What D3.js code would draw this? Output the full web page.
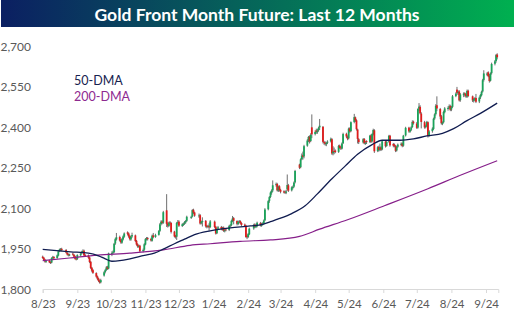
<!DOCTYPE html>
<html><head><meta charset="utf-8">
<script src="https://cdn.jsdelivr.net/npm/d3@7"></script>
<style>body{margin:0;background:#fff;} svg{display:block;}</style>
</head><body>
<svg id="chart" width="514" height="323"></svg>
<script>
const title = "Gold Front Month Future: Last 12 Months";
const firstDay = "2023-08-15";
const lastDay = "2024-09-25";
const holidays = ["2023-09-04","2023-11-23","2023-12-25","2024-01-01","2024-01-15","2024-02-19",
  "2024-03-29","2024-05-27","2024-06-19","2024-07-04","2024-09-02"];

// one line per trading week
const opens = [
1920,1916,1909,1901,
1906,1900,1898,1914,1919,
1915,1924,1941,1945,1949,
1945,1934,1929,1925,
1931,1927,1921,1913,1911,
1925,1933,1937,1942,1926,
1925,1917,1901,1879,1870,
1859,1847,1839,1831,1825,
1850,1863,1871,1881,1876,
1930,1935,1937,1969,1984,
1993,1981,1972,1984,1994,
2010,2006,1996,1984,1995,
1999,1979,1966,1957,1961,
1941,1946,1965,1984,1989,
1986,1979,1999,1993,
2001,2016,2041,2051,2046,
2092,2043,2034,2047,2045,
2013,1998,1994,2046,2050,
2034,2038,2043,2047,2053,
2064,2069,2094,2084,
2070,2074,2044,2049,
2053,2034,2031,2035,2030,
2050,2031,2007,2024,
2030,2021,2028,2015,2021,
2019,2033,2037,2052,2063,
2052,2041,2048,2052,2045,
2039,2035,1996,1993,2003,
2025,2039,2030,2033,
2045,2035,2041,2044,2055,
2096,2127,2142,2157,2166,
2186,2190,2165,2181,2168,
2162,2161,2157,2170,2185,
2166,2175,2180,2196,
2262,2252,2282,2296,2292,
2332,2352,2365,2349,2400,
2375,2388,2382,2389,2400,
2402,2345,2343,2337,2343,
2348,2356,2304,2312,2314,
2309,2332,2325,2321,2341,
2376,2365,2359,2396,2386,
2420,2437,2426,2392,2356,
2344,2357,2340,2349,
2346,2370,2348,2374,2389,
2312,2327,2317,2326,2318,
2347,2331,2347,2369,
2338,2336,2330,2314,2328,
2335,2340,2332,2370,
2399,2384,2391,2401,2421,
2414,2399,2469,2476,2451,
2419,2401,2404,2419,2369,
2386,2394,2433,2449,2482,
2468,2441,2413,2419,2456,
2468,2473,2479,2466,2476,
2516,2540,2527,2533,2501,
2519,2526,2523,2514,2536,
2515,2499,2503,2509,
2496,2511,2519,2533,2576,
2595,2604,2591,2573,2601,
2636,2646,2670];

const highs = [
1924,1919,1912,1908,
1909,1903,1918,1923,1922,
1928,1943,1950,1952,1953,
1948,1937,1932,1931,
1935,1930,1924,1917,1929,
1935,1942,1947,1946,1930,
1928,1920,1904,1882,1874,
1862,1850,1842,1835,1838,
1866,1874,1885,1886,1935,
1940,1943,1971,1990,2008,
1998,1986,1989,1999,2010,
2014,2010,2000,1998,2009,
2002,1982,1970,1964,1964,
1950,1970,1989,1993,1993,
1990,2002,2008,2005,
2019,2045,2055,2055,2090,
2152,2048,2050,2052,2048,
2016,2001,2049,2056,2055,
2044,2046,2052,2056,2072,
2072,2096,2098,2087,
2080,2078,2054,2066,
2056,2038,2038,2044,2056,
2054,2034,2026,2034,
2034,2031,2032,2022,2025,
2038,2041,2057,2071,2067,
2055,2053,2056,2055,2048,
2043,2038,2000,2008,2028,
2042,2044,2039,2050,
2049,2046,2048,2058,2100,
2130,2145,2162,2170,2203,
2195,2194,2184,2185,2172,
2166,2165,2168,2225,2190,
2181,2184,2199,2242,
2265,2285,2303,2310,2335,
2356,2368,2370,2378,2448,
2389,2395,2394,2402,2431,
2405,2350,2348,2346,2352,
2362,2360,2330,2325,2318,
2335,2336,2330,2344,2380,
2380,2370,2399,2400,2422,
2450,2440,2430,2395,2360,
2360,2360,2350,2352,
2372,2374,2378,2395,2393,
2330,2332,2340,2330,2352,
2350,2350,2372,2372,
2342,2340,2334,2332,2340,
2344,2344,2372,2402,
2402,2394,2404,2426,2425,
2420,2471,2490,2482,2456,
2424,2410,2424,2422,2390,
2400,2436,2452,2486,2515,
2472,2446,2422,2462,2475,
2478,2485,2484,2480,2520,
2530,2550,2537,2538,2527,
2530,2530,2527,2540,2540,
2518,2509,2512,2524,
2514,2524,2536,2580,2612,
2605,2608,2598,2604,2640,
2650,2672,2675];

const lows = [
1912,1905,1898,1897,
1896,1893,1895,1910,1910,
1912,1921,1937,1940,1940,
1932,1924,1921,1922,
1924,1916,1909,1906,1908,
1921,1929,1933,1920,1919,
1912,1896,1874,1862,1856,
1842,1833,1826,1820,1821,
1846,1858,1867,1871,1873,
1922,1930,1933,1964,1980,
1976,1968,1968,1980,1990,
1999,1990,1980,1979,1990,
1974,1961,1953,1953,1937,
1936,1942,1962,1980,1980,
1976,1976,1988,1990,
1998,2012,2036,2040,2042,
2030,2028,2030,2038,2006,
1991,1987,1982,2040,2030,
2030,2034,2038,2042,2049,
2060,2066,2078,2068,
2064,2039,2040,2032,
2028,2025,2027,2016,2026,
2026,2002,2004,2020,
2018,2017,2012,2010,2014,
2015,2029,2033,2048,2040,
2036,2037,2044,2040,2032,
2030,1990,1985,1989,2000,
2020,2026,2026,2029,
2032,2031,2036,2040,2052,
2092,2120,2138,2150,2160,
2180,2162,2160,2162,2155,
2155,2153,2152,2165,2160,
2162,2170,2176,2192,
2245,2248,2278,2280,2285,
2328,2345,2340,2345,2360,
2370,2376,2376,2384,2390,
2340,2335,2332,2330,2338,
2344,2298,2296,2300,2304,
2305,2320,2316,2318,2338,
2360,2352,2355,2380,2382,
2415,2420,2388,2340,2338,
2340,2337,2335,2338,
2342,2342,2344,2370,2305,
2308,2310,2312,2312,2315,
2325,2328,2343,2328,
2326,2326,2308,2310,2324,
2330,2326,2328,2366,
2380,2380,2386,2398,2410,
2394,2395,2460,2448,2396,
2395,2396,2400,2362,2365,
2380,2390,2428,2444,2460,
2430,2410,2408,2415,2452,
2462,2468,2460,2460,2472,
2512,2522,2520,2496,2495,
2512,2514,2510,2509,2512,
2494,2492,2497,2490,
2490,2505,2515,2529,2570,
2590,2586,2566,2570,2596,
2630,2640,2652];

const closes = [
1915,1908,1902,1905,
1899,1897,1915,1918,1914,
1925,1940,1946,1948,1944,
1935,1928,1926,1928,
1928,1920,1912,1910,1926,
1932,1938,1941,1925,1924,
1916,1900,1878,1868,1860,
1846,1838,1830,1824,1833,
1862,1870,1880,1875,1932,
1934,1938,1968,1985,1992,
1980,1973,1985,1995,2006,
2005,1995,1985,1994,2000,
1978,1965,1958,1960,1940,
1945,1966,1985,1988,1985,
1980,1998,1992,2000,
2015,2040,2050,2045,2085,
2042,2035,2046,2044,2012,
1995,1993,2045,2049,2035,
2040,2042,2048,2052,2068,
2068,2093,2083,2072,
2073,2043,2050,2052,
2033,2030,2034,2029,2051,
2030,2006,2023,2029,
2022,2027,2016,2018,2018,
2034,2036,2053,2062,2053,
2042,2049,2051,2044,2038,
2034,1993,1992,2004,2024,
2038,2031,2034,2046,
2036,2042,2043,2054,2095,
2126,2141,2158,2165,2185,
2189,2166,2180,2167,2161,
2160,2158,2162,2186,2165,
2177,2179,2195,2238,
2250,2281,2295,2291,2330,
2351,2364,2348,2372,2374,
2383,2383,2388,2398,2406,
2346,2342,2338,2342,2347,
2357,2303,2311,2309,2308,
2331,2324,2322,2340,2375,
2366,2358,2395,2385,2419,
2438,2425,2393,2357,2345,
2356,2341,2343,2345,
2369,2347,2375,2390,2311,
2326,2316,2325,2317,2348,
2330,2346,2368,2333,
2332,2331,2313,2327,2336,
2339,2331,2369,2398,
2385,2390,2400,2420,2415,
2398,2468,2477,2452,2420,
2400,2405,2420,2368,2385,
2395,2432,2448,2480,2470,
2440,2415,2418,2457,2470,
2472,2478,2465,2475,2515,
2525,2528,2532,2500,2522,
2525,2522,2515,2535,2516,
2500,2505,2508,2495,
2510,2520,2532,2575,2600,
2600,2590,2572,2600,2635,
2645,2668,2660];

const dma50Dates = ["2023-08-15","2023-09-09","2023-09-25","2023-10-04","2023-10-10","2023-10-16","2023-10-23",
  "2023-11-02","2023-11-14","2023-11-23","2023-12-02","2023-12-11","2023-12-20","2023-12-29","2024-01-12",
  "2024-01-30","2024-02-17","2024-02-28","2024-03-06","2024-03-13","2024-03-25","2024-04-06","2024-04-17",
  "2024-04-30","2024-05-12","2024-05-23","2024-06-05","2024-06-14","2024-06-30","2024-07-12","2024-07-24",
  "2024-08-07","2024-08-17","2024-08-29","2024-09-10","2024-09-25"];
const dma50 = [1947,1938,1933,1923,1912,1903,1905,1913,1925,1933,1950,1968,1985,2002,2016,
  2027,2034,2040,2050,2060,2080,2109,2153,2209,2257,2300,2336,2352,2352,2357,2368,
  2378,2395,2425,2452,2490];

const dma200Dates = ["2023-08-15","2023-09-08","2023-10-03","2023-11-01","2023-12-01","2023-12-25","2024-01-12",
  "2024-02-08","2024-03-06","2024-04-01","2024-04-19","2024-05-14","2024-06-16","2024-07-25","2024-08-23","2024-09-25"];
const dma200 = [1905,1915,1926,1933,1945,1962,1968,1977,1982,1995,2022,2057,2109,2172,2222,2276];

const yTicks = [1800,1950,2100,2250,2400,2550,2700];
const xTickDates = ["2023-08-15","2023-09-15","2023-10-15","2023-11-15","2023-12-15","2024-01-15","2024-02-15",
  "2024-03-15","2024-04-15","2024-05-15","2024-06-15","2024-07-15","2024-08-15","2024-09-15"];
const xTickLabels = ["8/23","9/23","10/23","11/23","12/23","1/24","2/24","3/24","4/24","5/24","6/24","7/24","8/24","9/24"];
const legendNames = ["50-DMA","200-DMA"];

const parse = d3.utcParse("%Y-%m-%d");
const fmt = d3.utcFormat("%Y-%m-%d");
const holidaySet = new Set(holidays);
const tradingDays = [];
for (let d = parse(firstDay); d <= parse(lastDay); d = d3.utcDay.offset(d, 1)) {
  const wd = d.getUTCDay();
  if (wd === 0 || wd === 6) continue;
  if (holidaySet.has(fmt(d))) continue;
  tradingDays.push(d);
}
const n = Math.min(tradingDays.length, closes.length);
const candles = d3.range(n).map(i => ({d: tradingDays[i], o: opens[i], h: highs[i], l: lows[i], c: closes[i]}));

const svg = d3.select("#chart");
const x = d3.scaleUtc().domain([parse("2023-08-15"), parse("2024-09-26")]).range([42.7, 498.3]);
const y = d3.scaleLinear().domain([1800, 2700]).range([289, 46.5]);
const font = "Lato, 'Open Sans', sans-serif";

// Title banner
const defs = svg.append("defs");
const grad = defs.append("linearGradient").attr("id", "tg").attr("x1", "0%").attr("x2", "100%");
grad.append("stop").attr("offset", "0%").attr("stop-color", "#0b1f62");
grad.append("stop").attr("offset", "100%").attr("stop-color", "#00b050");
svg.append("rect").attr("x", 1).attr("y", 0).attr("width", 513).attr("height", 27).attr("fill", "url(#tg)");
svg.append("text").attr("x", 257).attr("y", 14).attr("text-anchor", "middle").attr("dominant-baseline", "central")
  .attr("fill", "#fff").attr("font-family", font).attr("font-weight", "bold")
  .attr("font-size", 17.5).text(title);

// Y labels
svg.append("g").selectAll("text").data(yTicks).join("text")
  .attr("x", 31).attr("y", d => y(d)).attr("text-anchor", "end").attr("dominant-baseline", "central")
  .attr("fill", "#595959").attr("font-family", font).attr("font-size", 12)
  .text(d => d3.format(",")(d));

// X axis
const xAxis = d3.axisBottom(x).tickValues(xTickDates.map(parse)).tickSize(4)
  .tickFormat((d, i) => xTickLabels[i]);
const gx = svg.append("g").attr("transform", `translate(0,${y(1800)})`).call(xAxis);
gx.select(".domain").attr("stroke", "#d9d9d9");
gx.selectAll(".tick line").attr("stroke", "#d9d9d9");
gx.selectAll(".tick text").attr("fill", "#595959").attr("font-family", font).attr("font-size", 11.5)
  .attr("letter-spacing", "-0.2px").attr("dy", "1.05em");

// Candles
const up = "#1aa35a", down = "#e01b1b";
const cg = svg.append("g");
cg.selectAll("line").data(candles).join("line")
  .attr("x1", d => x(d.d)).attr("x2", d => x(d.d)).attr("y1", d => y(d.h)).attr("y2", d => y(d.l))
  .attr("stroke", "#4a4a4a").attr("stroke-width", 0.8);
cg.selectAll("rect").data(candles).join("rect")
  .attr("x", d => x(d.d) - 0.9).attr("width", 1.8)
  .attr("y", d => y(Math.max(d.o, d.c)))
  .attr("height", d => Math.max(0.9, Math.abs(y(d.o) - y(d.c))))
  .attr("fill", d => d.c >= d.o ? up : down);

// Moving averages
const line = d3.line().x(d => x(d[0])).y(d => y(d[1])).curve(d3.curveMonotoneX);
svg.append("path").datum(dma200Dates.map((d, i) => [parse(d), dma200[i]]))
  .attr("d", line).attr("fill", "none").attr("stroke", "#861f8a").attr("stroke-width", 1.2);
svg.append("path").datum(dma50Dates.map((d, i) => [parse(d), dma50[i]]))
  .attr("d", line).attr("fill", "none").attr("stroke", "#101c50").attr("stroke-width", 1.3);

// Legend
svg.append("text").attr("x", 74).attr("y", 85).attr("fill", "#17224f")
  .attr("font-family", font).attr("font-size", 12.5).text(legendNames[0]);
svg.append("text").attr("x", 74).attr("y", 100.5).attr("fill", "#8e2a90")
  .attr("font-family", font).attr("font-size", 12.5).text(legendNames[1]);
</script>
</body></html>
